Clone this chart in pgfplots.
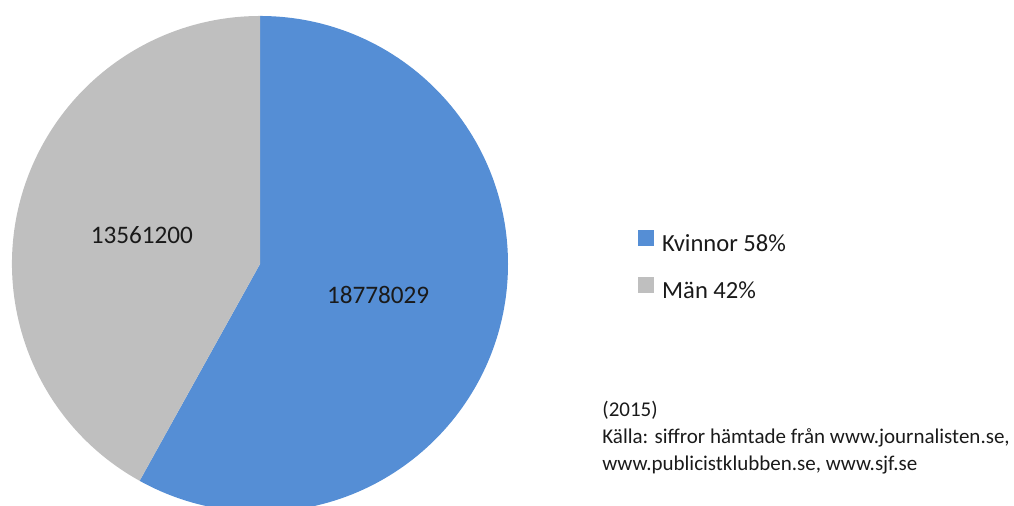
\documentclass[border=0pt]{standalone}
\usepackage{fontspec}
\setmainfont{Carlito}
\usepackage{pgfplots}
\usepackage{pgfplotstable}
\pgfplotsset{compat=1.18}

\definecolor{pieblue}{HTML}{558ED5}
\definecolor{piegrey}{HTML}{BFBFBF}
\definecolor{txt}{HTML}{1A1A1A}

% values from the chart
\pgfplotstableread{
label value
Kvinnor 18778029
Man 13561200
}\piedata

\pgfplotstablegetelem{0}{value}\of\piedata \let\va\pgfplotsretval
\pgfplotstablegetelem{1}{value}\of\piedata \let\vb\pgfplotsretval
\edef\angA{\fpeval{360*\va/(\va+\vb)}}
\edef\endA{\fpeval{90-\angA}}
\edef\midA{\fpeval{90-\angA/2}}
\edef\midB{\fpeval{90-\angA-(360-\angA)/2}}
\edef\pA{\fpeval{round(100*\va/(\va+\vb))}}
\edef\pB{\fpeval{round(100*\vb/(\va+\vb))}}

\begin{document}
\begin{tikzpicture}
\begin{axis}[
  x=0.5pt, y=0.5pt,
  xmin=0, xmax=1014, ymin=0, ymax=506,
  hide axis,
  legend cell align=left,
  legend image code/.code={\fill[#1] (0pt,-0.5pt) rectangle (7.5pt,7pt);},
  legend style={draw=none, fill=none, at={(axis cs:632,280)}, anchor=north west,
    font=\fontsize{12.3}{14}\selectfont\color{txt}, row sep=10pt,
    nodes={inner xsep=4pt, inner ysep=1pt}},
]
\coordinate (ll) at (axis cs:0,0);
\coordinate (ur) at (axis cs:1014,506);
\addlegendimage{pieblue}
\addlegendentry{Kvinnor \pA\%}
\addlegendimage{piegrey}
\addlegendentry{Män \pB\%}

\fill[pieblue] (axis cs:260,242) -- ++(90:124pt)
  arc[start angle=90, end angle=\endA, radius=124pt] -- cycle;
\fill[piegrey] (axis cs:260,242) -- ++(\endA:124pt)
  arc[start angle=\endA, end angle=-270, radius=124pt] -- cycle;

\path (axis cs:260,242) ++(\midA:61pt) node[font=\fontsize{12.6}{14}\selectfont, text=txt] {\va};
\path (axis cs:260,242) ++(\midB:61pt) node[font=\fontsize{12.6}{14}\selectfont, text=txt, yshift=-1pt] {\vb};

\node[anchor=base west, align=left, inner sep=0pt, text=txt,
  font=\fontsize{10.5}{13.6}\selectfont] at (axis cs:602,35)
  {(2015)\\Källa: siffror hämtade från www.journalisten.se,\\www.publicistklubben.se, www.sjf.se};
\end{axis}
\pgfresetboundingbox
\path (ll) rectangle (ur);
\end{tikzpicture}
\end{document}
